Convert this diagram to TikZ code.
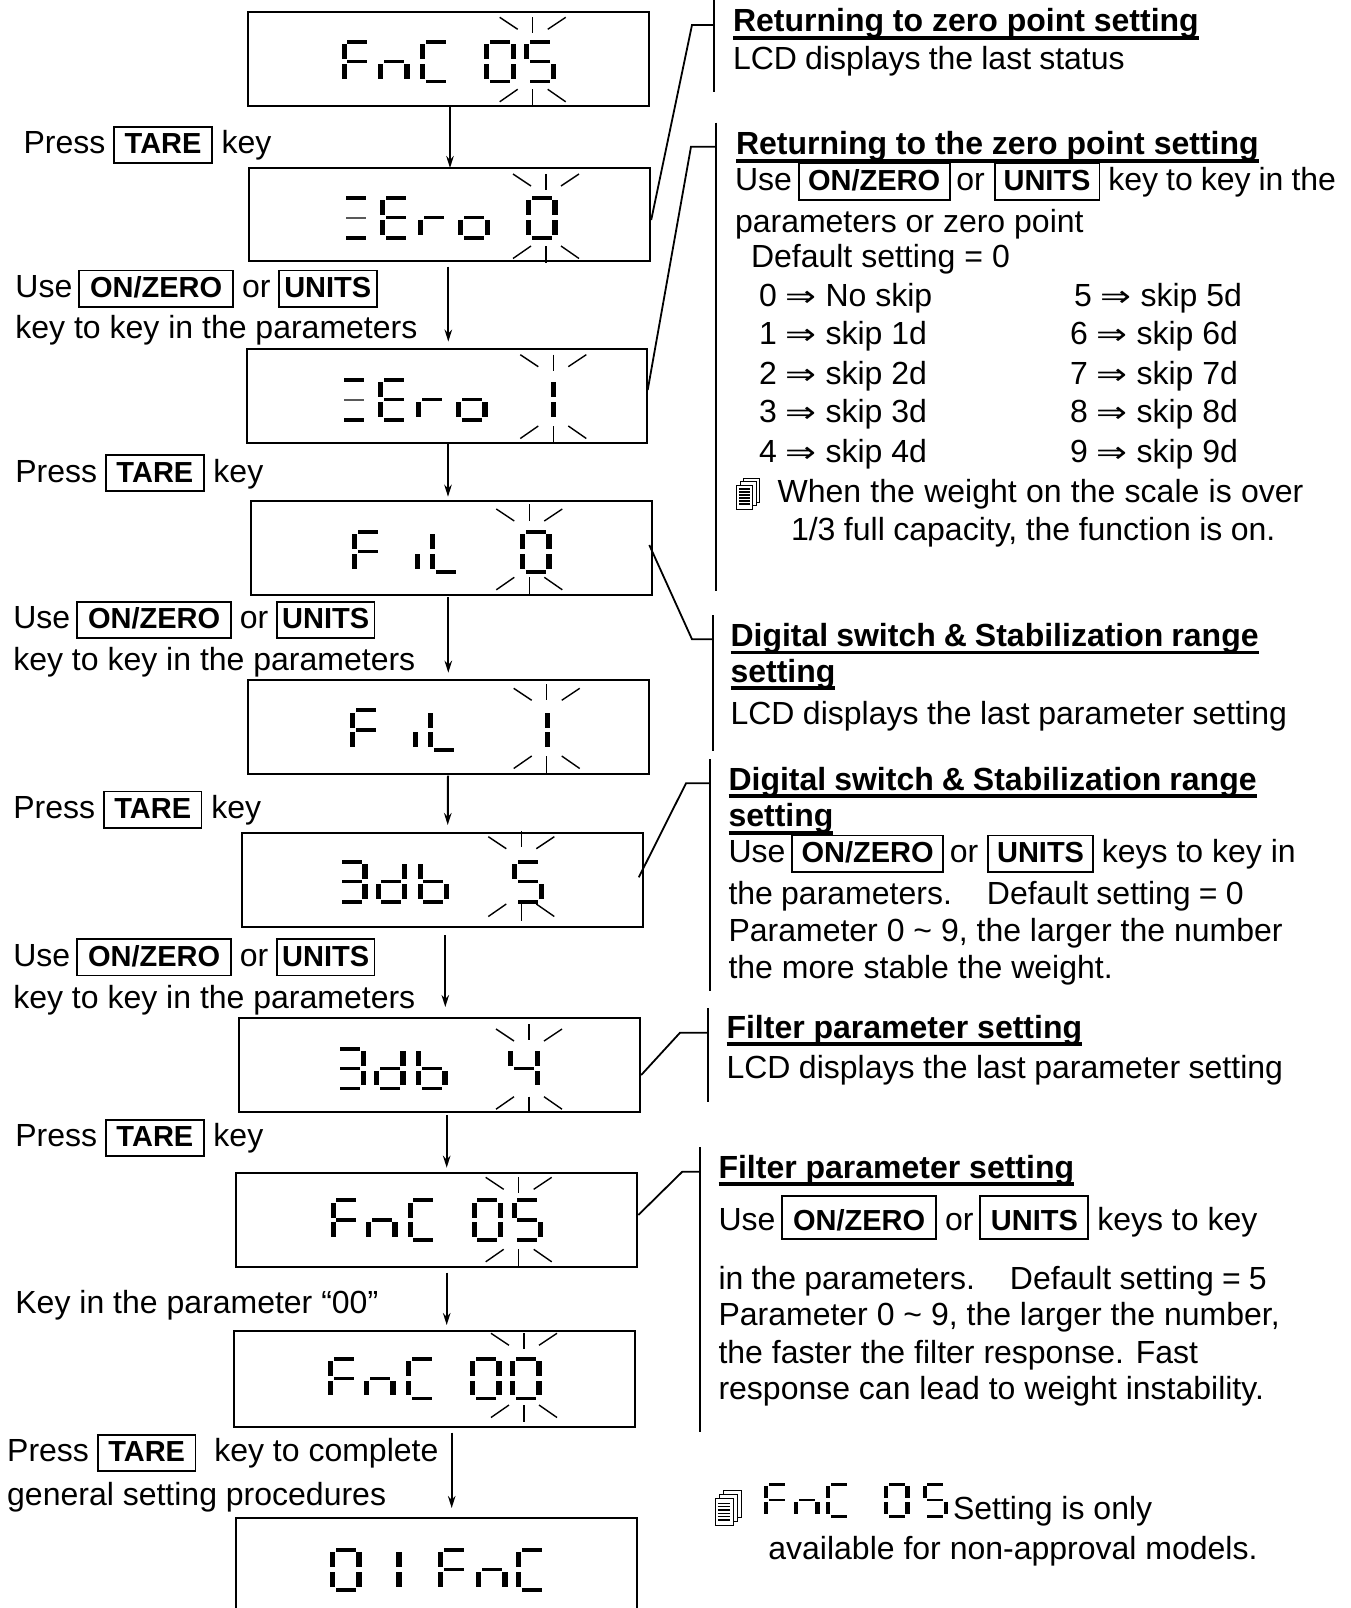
\documentclass[tikz,border=0pt]{standalone}
\usepackage{fontspec}
\usepackage{graphicx}
\setmainfont{Liberation Sans}
\newfontfamily\symfont{DejaVu Sans}
\usetikzlibrary{calc,arrows.meta}
\tikzset{
  lcdbox/.style={draw=black,line width=2pt,rectangle,minimum width=401pt,minimum height=94pt,inner sep=0pt,outer sep=0pt},
  arr/.style={line width=2pt,-{Stealth[length=12pt,width=7.5pt]}},
  lead/.style={line width=1.8pt,line join=miter},
  ray/.style={line width=1.4pt},
  txt/.style={anchor=base west,inner sep=0pt,outer sep=0pt,font=\fontsize{32}{38}\selectfont}
}
% seven-segment pieces
\newcommand\segA{\fill (5.7,0) rectangle (25.7,3.8);}
\newcommand\segB{\fill (26.4,4.4) rectangle (31.7,19.3);}
\newcommand\segC{\fill (26.4,24) rectangle (31.7,38.7);}
\newcommand\segD{\fill (5.7,39.8) rectangle (25.7,43.5);}
\newcommand\segE{\fill (0,24) rectangle (5,38.7);}
\newcommand\segF{\fill (0,4.4) rectangle (5,19.3);}
\newcommand\segG{\fill (5.7,19.8) rectangle (25.7,23.2);}
\newcommand\segH{\fill[black!65] (5.7,20.6) rectangle (25.7,22.6);}
\newcommand\lcdg[4][1]{\begin{scope}[shift={(#2,#3)},scale=#1]\foreach \s in {#4}{\csname seg\s\endcsname}\end{scope}}
\newcommand\chrF[3][1]{\lcdg[#1]{#2}{#3}{A,F,G,E}}
\newcommand\chrn[3][1]{\lcdg[#1]{#2}{#3}{G,E,C}}
\newcommand\chrC[3][1]{\lcdg[#1]{#2}{#3}{A,F,E,D}}
\newcommand\chrO[3][1]{\lcdg[#1]{#2}{#3}{A,B,C,D,E,F}}
\newcommand\chrS[3][1]{\lcdg[#1]{#2}{#3}{A,F,G,C,D}}
\newcommand\chrZ[3][1]{\lcdg[#1]{#2}{#3}{A,H,D}}
\newcommand\chrE[3][1]{\lcdg[#1]{#2}{#3}{A,F,G,E,D}}
\newcommand\chrr[3][1]{\lcdg[#1]{#2}{#3}{G,E}}
\newcommand\chro[3][1]{\lcdg[#1]{#2}{#3}{G,C,D,E}}
\newcommand\chrI[3][1]{\lcdg[#1]{#2}{#3}{B,C}}
\newcommand\chri[3][1]{\lcdg[#1]{#2}{#3}{E}}
\newcommand\chrL[3][1]{\lcdg[#1]{#2}{#3}{F,E,D}}
\newcommand\chrT[3][1]{\lcdg[#1]{#2}{#3}{A,G,D,B,C}}
\newcommand\chrd[3][1]{\lcdg[#1]{#2}{#3}{G,B,C,D,E}}
\newcommand\chrb[3][1]{\lcdg[#1]{#2}{#3}{F,E,G,C,D}}
\newcommand\chrH[3][1]{\lcdg[#1]{#2}{#3}{F,G,B,C}}
% burst: cx, vertical top, vertical end, diagonal top, lower start
\newcommand\burst[5]{%
  \draw[ray] (#1,#2) -- (#1,#3);
  \draw[ray] ({#1-33},#4) -- ({#1-15},{#4+12});
  \draw[ray] ({#1+33},#4) -- ({#1+15},{#4+12});
  \draw[ray] (#1,#5) -- (#1,{#5+16.5});
  \draw[ray] ({#1-15},#5) -- ({#1-33},{#5+12.5});
  \draw[ray] ({#1+15},#5) -- ({#1+33},{#5+12.5});
}
\newcommand\noteicon[3]{\begin{scope}[shift={(#1,#2)},scale=#3]
  \draw[line width=.8pt,fill=white] (7,0) rectangle (23,24);
  \draw[line width=.8pt,fill=white] (3.5,3.5) rectangle (19.5,27.5);
  \draw[line width=.9pt,fill=white] (0,7) rectangle (16,31);
  \foreach \yy in {11,14,17,20,23,26} {\draw[line width=1.2pt] (2.5,\yy) -- (13.5,\yy);}
\end{scope}}
\newcommand\kstrut{34.5pt}
\newcommand\kbox[2]{{\setlength\fboxrule{1.8pt}\setlength\fboxsep{0pt}\fbox{\hspace{#2}\rule[-8.2pt]{0pt}{\kstrut}\fontsize{29}{34}\selectfont\bfseries #1\hspace{#2}}}}
\newcommand\kTA{\kbox{TARE}{9.5pt}}
% Use box or box: gap, pad, gap, gap, pad
\newcommand\useline[5]{Use\hspace{#1}\kbox{ON/ZERO}{#2}\hspace{#3}or\hspace{#4}\kbox{UNITS}{#5}}
\newcommand\ulbf[1]{\setbox0\hbox{\bfseries #1}\rlap{\rule[-8pt]{\wd0}{3.6pt}}\box0}
\newcommand\impl{{\symfont\fontsize{26}{30}\selectfont\scalebox{1.42}[1.12]{⇒}}}
\begin{document}
\begin{tikzpicture}[x=1pt,y=-1pt]
\useasboundingbox (0,0) rectangle (1350,1608);
% LCD frames
\node[lcdbox] (b1) at (448.5,59) {};
\node[lcdbox,minimum height=93pt] (b2) at (449.5,214.5) {};
\node[lcdbox,minimum width=400pt] (b3) at (447,396) {};
\node[lcdbox] (b4) at (451.5,548) {};
\node[lcdbox] (b5) at (448.8,727) {};
\node[lcdbox] (b6) at (442,880) {};
\node[lcdbox] (b7) at (439.5,1065) {};
\node[lcdbox] (b8) at (436.5,1219.7) {};
\node[lcdbox,minimum height=96pt] (b9) at (434.7,1378.7) {};
\node[lcdbox,draw=none,minimum height=90pt] (b10) at (436.5,1563) {};
\draw[line width=2pt] (b10.south west) -- (b10.north west) -- (b10.north east) -- (b10.south east);
% LCD characters
\chrF{341.7}{40}\chrn{378}{40}\chrC{420}{40}\chrO{484.3}{40}\chrS{524.3}{40}
\burst{532.7}{17.3}{33.3}{17.3}{89.3}
\chrZ{340.3}{196}\chrE{380}{196}\chrr{418.3}{196}\chro{458.3}{196}\chrO{526}{196}
\burst{546}{174}{190}{174}{246}
\chrZ{338.3}{378}\chrE{378.3}{378}\chrr{416}{378}\chro{456}{378}\chrI{524.5}{378}
\burst{553.3}{354.7}{370.7}{354.7}{426}
\chrF{352}{530}\chri{415.3}{530}\chrL{430}{530}\chrO{520}{530}
\burst{529.3}{504}{521}{509}{577.3}
\chrF{350}{708.3}\chri{413.3}{708.3}\chrL{428.3}{708.3}\chrI{518.5}{708.3}
\burst{546.7}{684}{700}{688.3}{756}
\chrT{336}{860}\chrd{375.7}{860}\chrb{417.7}{860}\chrS{512.3}{860}
\burst{521.3}{831}{847.3}{836.7}{904}
\chrT{334.7}{1046.7}\chrd{374}{1046.7}\chrb{416}{1046.7}\chrH{508.3}{1046.7}
\burst{529}{1024}{1040}{1029}{1096.7}
\chrF{330.7}{1198.3}\chrn{366}{1198.3}\chrC{407.7}{1198.3}\chrO{471.7}{1198.3}\chrS{511.7}{1198.3}
\burst{518.7}{1177.3}{1193}{1177.3}{1249.3}
\chrF{328.3}{1356.7}\chrn{364}{1356.7}\chrC{406}{1356.7}\chrO{470}{1356.7}\chrO{510}{1356.7}
\burst{524}{1333.3}{1349}{1333.3}{1405}
\chrO{330}{1548}\chrI{370}{1548}\chrF{438.3}{1548}\chrn{476}{1548}\chrC{516}{1548}
% arrows between frames
\draw[arr] ($(b1.south)+(1.5,0)$) -- ($(b2.north)+(0.5,0)$);
\draw[arr] ($(b2.south)+(-1.2,5.5)$) -- ($(b3.north)+(1.3,-7.4)$);
\draw[arr] ($(b3.south)+(1,0)$) -- ($(b4.north)+(-3.5,-4.3)$);
\draw[arr] ($(b4.south)+(-3.2,2)$) -- ($(b5.north)+(-0.5,-7.3)$);
\draw[arr] ($(b5.south)+(-0.8,1.5)$) -- ($(b6.north)+(5.7,-8)$);
\draw[arr] ($(b6.south)+(3.3,8)$) -- ($(b7.north)+(5.8,-11)$);
\draw[arr] ($(b7.south)+(7.2,3)$) -- ($(b8.north)+(10.2,-5)$);
\draw[arr] ($(b8.south)+(10.2,6)$) -- ($(b9.north)+(12,-5.7)$);
\draw[arr] ($(b9.south)+(17,6)$) -- ($(b10.north)+(15.2,-10)$);
% leader brackets
\coordinate (a1) at (714,0); \coordinate (a2) at (714,91.7); \coordinate (a3) at (714,25); \coordinate (a4) at (692,25);
\draw[lead] (a1) -- (a2); \draw[lead] (a3) -- (a4) -- ($(b2.east)+(1.2,5.5)$);
\coordinate (c1) at (716.2,122.7); \coordinate (c2) at (716.2,590.7); \coordinate (c3) at (716.2,146.7); \coordinate (c4) at (691,146.7);
\draw[lead] (c1) -- (c2); \draw[lead] (c3) -- (c4) -- ($(b3.east)+(0.7,-6)$);
\coordinate (d1) at (712.7,615); \coordinate (d2) at (712.7,751); \coordinate (d3) at (712.7,639.3); \coordinate (d4) at (692,639.3);
\draw[lead] (d1) -- (d2); \draw[lead] (d3) -- (d4) -- ($(b4.east)+(-2.7,-3)$);
\coordinate (e1) at (709.7,759); \coordinate (e2) at (709.7,990.7); \coordinate (e3) at (709.7,783.3); \coordinate (e4) at (686,783.3);
\draw[lead] (e1) -- (e2); \draw[lead] (e3) -- (e4) -- ($(b6.east)+(-3.7,-2.7)$);
\coordinate (f1) at (708,1008.3); \coordinate (f2) at (708,1101.7); \coordinate (f3) at (708,1032.7); \coordinate (f4) at (680,1032.7);
\draw[lead] (f1) -- (f2); \draw[lead] (f3) -- (f4) -- ($(b7.east)+(1.2,10)$);
\coordinate (g1) at (700,1147.3); \coordinate (g2) at (700,1431.7); \coordinate (g3) at (700,1171.7); \coordinate (g4) at (682.3,1171.7);
\draw[lead] (g1) -- (g2); \draw[lead] (g3) -- (g4) -- ($(b8.east)+(1.3,-4.7)$);
% left column
\node[txt] (l1) at (23.6,154) {Press\hspace{8pt}\kTA{} key};
\node[txt] (l2) at (15.4,297.7) {\useline{6pt}{10pt}{8pt}{7.5pt}{4.5pt}};
\node[txt] (l3) at (15.4,338) {key to key in the parameters};
\node[txt] (l4) at (15.4,482) {Press\hspace{8pt}\kTA{} key};
\node[txt] (l5) at (13.3,628.8) {\useline{6pt}{10pt}{8pt}{7.5pt}{4.5pt}};
\node[txt] (l6) at (13.3,670) {key to key in the parameters};
\node[txt] (l7) at (13.3,818.6) {Press\hspace{8pt}\kTA{} key};
\node[txt] (l8) at (13.3,966.3) {\useline{6pt}{10pt}{8pt}{7.5pt}{4.5pt}};
\node[txt] (l9) at (13.3,1008.4) {key to key in the parameters};
\node[txt] (l10) at (15.4,1146.8) {Press\hspace{8pt}\kTA{} key};
\node[txt] (l11) at (15.4,1313) {Key in the parameter “00”};
\node[txt] (l12) at (7.2,1461.8) {Press\hspace{8pt}\kTA{}\hspace{9pt} key to complete};
\node[txt] (l13) at (7.2,1505) {general setting procedures};
% right column
\node[txt] (r1) at (733,32) {\ulbf{Returning to zero point setting}};
\node[txt] (r2) at (733,70) {\spaceskip=8.1pt LCD displays the last status};
\node[txt] (r3) at (736,155) {\ulbf{Returning to the zero point setting}};
\node[txt] (r4) at (735,190.5) {\useline{5.9pt}{8.5pt}{5.9pt}{8.9pt}{8pt}\hspace{8pt}{\spaceskip=8pt key to key in the}};
\node[txt] (r5) at (735,232.5) {parameters or zero point};
\node[txt] (r6) at (751,267.5) {Default setting = 0};
\node[txt] (s0) at (759,306.7) {0 \impl{} No skip};
\node[txt] (s1) at (759,344.7) {1 \impl{} skip 1d};
\node[txt] (s2) at (759,384.7) {2 \impl{} skip 2d};
\node[txt] (s3) at (759,422.6) {3 \impl{} skip 3d};
\node[txt] (s4) at (759,462.6) {4 \impl{} skip 4d};
\node[txt] (s5) at (1074,306.7) {5 \impl{} skip 5d};
\node[txt] (s6) at (1070,344.7) {6 \impl{} skip 6d};
\node[txt] (s7) at (1070,384.7) {7 \impl{} skip 7d};
\node[txt] (s8) at (1070,422.6) {8 \impl{} skip 8d};
\node[txt] (s9) at (1070,462.6) {9 \impl{} skip 9d};
\noteicon{736.7}{478}{1}
\node[txt] (r7) at (777.6,502.6) {\spaceskip=9.3pt When the weight on the scale is over};
\node[txt] (r8) at (791,540.6) {\spaceskip=8.5pt 1/3 full capacity, the function is on.};
\node[txt] (r9) at (730.5,646.3) {\ulbf{\spaceskip=8pt Digital switch \& Stabilization range}};
\node[txt] (r10) at (730.5,682) {\ulbf{setting}};
\node[txt] (r11) at (730.5,724.2) {\spaceskip=8.5pt LCD displays the last parameter setting};
\node[txt] (r12) at (728.5,790) {\ulbf{\spaceskip=8pt Digital switch \& Stabilization range}};
\node[txt] (r13) at (728.5,826.8) {\ulbf{setting}};
\node[txt] (r14) at (728.5,862.7) {\useline{5.9pt}{8.5pt}{5.9pt}{8.9pt}{8pt}\hspace{8pt}keys to key in};
\node[txt] (r15) at (728.5,904.8) {\spaceskip=8.2pt the parameters.\hspace{35pt}Default setting = 0};
\node[txt] (r16) at (728.5,941.7) {Parameter 0 \textasciitilde{} 9, the larger the number};
\node[txt] (r17) at (728.5,978.6) {the more stable the weight.};
\node[txt] (r18) at (726.5,1038) {\ulbf{Filter parameter setting}};
\node[txt] (r19) at (726.5,1078) {\spaceskip=8.5pt LCD displays the last parameter setting};
\node[txt] (r20) at (718.5,1178) {\ulbf{Filter parameter setting}};
\node[txt] (r21) at (718.5,1230) {\renewcommand\kstrut{41pt}\useline{5.9pt}{10pt}{8pt}{6pt}{9.6pt}\hspace{8pt}keys to key};
\node[txt] (r22) at (718.5,1289.4) {\spaceskip=8.2pt in the parameters.\hspace{35pt}Default setting = 5};
\node[txt] (r23) at (718.5,1325.3) {Parameter 0 \textasciitilde{} 9, the larger the number,};
\node[txt] (r24) at (718.5,1363.3) {the faster the filter response. Fast};
\node[txt] (r25) at (718.5,1399.2) {response can lead to weight instability.};
\noteicon{715}{1490.7}{1.13}
\chrF[0.8]{764}{1482.7}\chrn[0.8]{794.3}{1482.7}\chrC[0.8]{826}{1482.7}\chrO[0.8]{884.3}{1482.7}\chrS[0.8]{922.7}{1482.7}
\node[txt] (r26) at (953,1519) {Setting is only};
\node[txt] (r27) at (768.4,1559) {available for non-approval models.};
\end{tikzpicture}
\end{document}
